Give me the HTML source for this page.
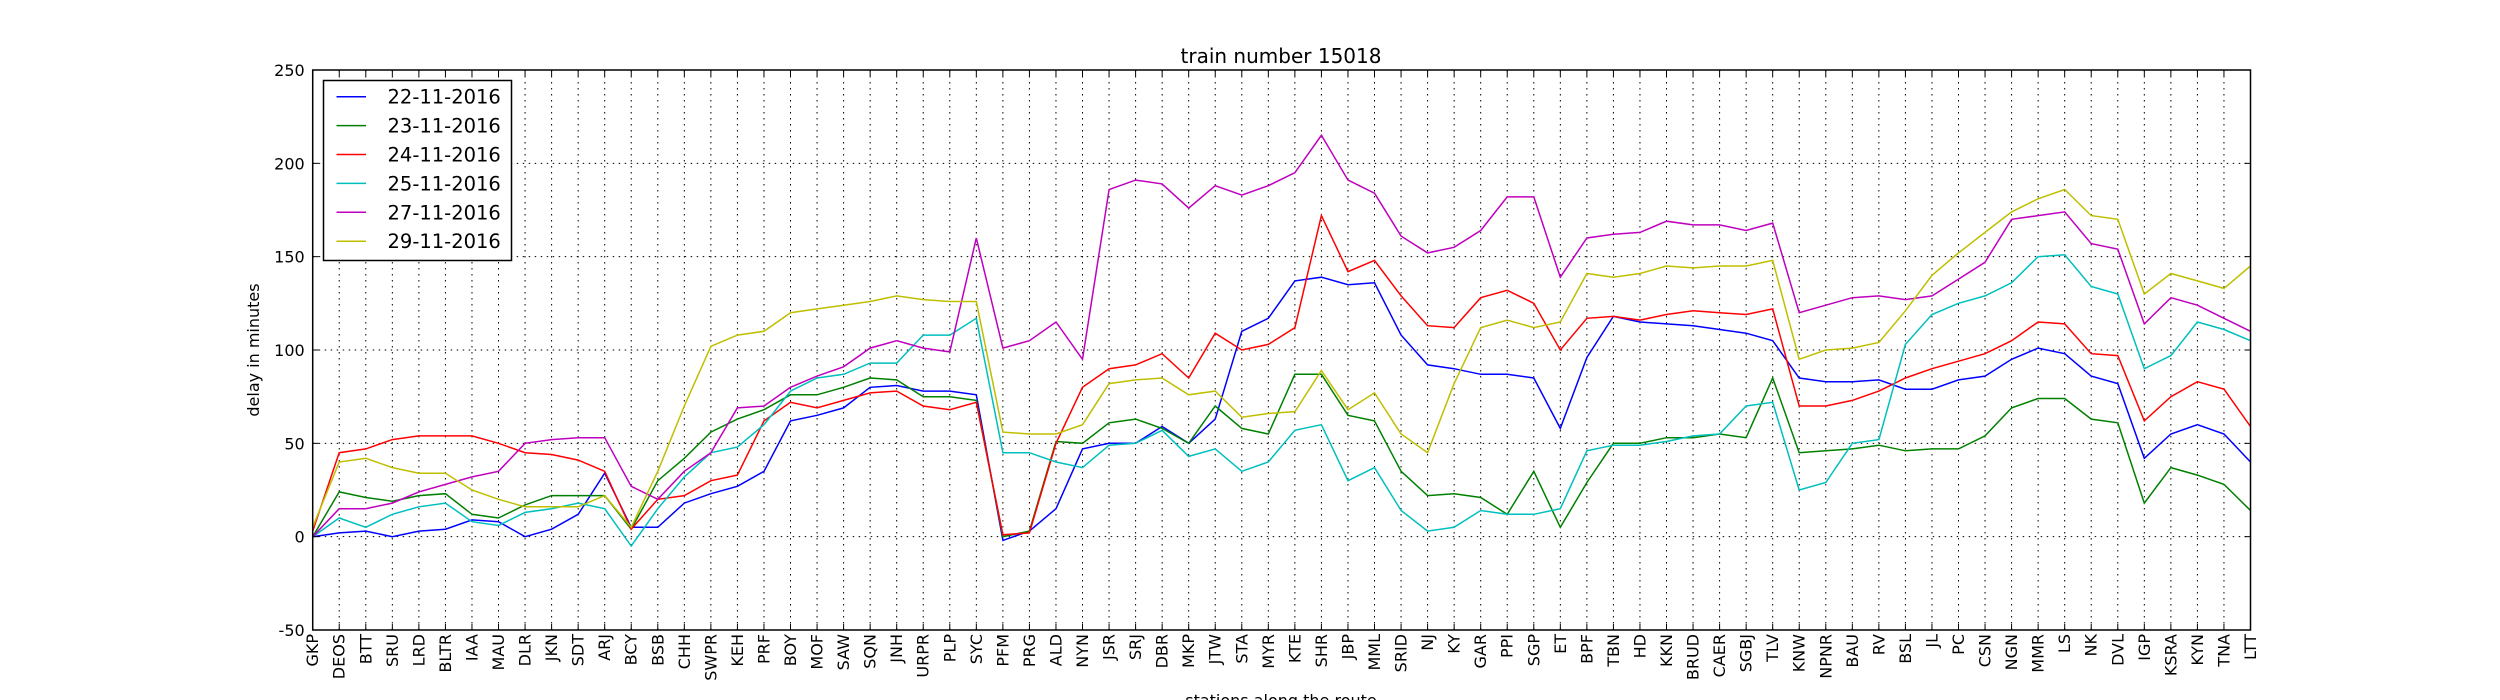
<!DOCTYPE html>
<html><head><meta charset="utf-8"><title>train number 15018</title>
<style>
html,body{margin:0;padding:0;background:#fff;}
svg{display:block;font-family:"DejaVu Sans","Liberation Sans",sans-serif;}
</style></head>
<body>
<svg id="chart" width="2500" height="700" viewBox="0 0 2500 700" xmlns="http://www.w3.org/2000/svg">
<rect width="2500" height="700" fill="#fff"/>
<g id="grid"></g>
<g id="series"></g>
<g id="axes"></g>
<text x="1281" y="63" font-size="20" text-anchor="middle">train number 15018</text>
<text transform="translate(259,350) rotate(-90)" font-size="16" text-anchor="middle">delay in minutes</text>
<text x="1281" y="706" font-size="16" text-anchor="middle">stations along the route</text>
<g id="legend"></g>
</svg>
<script>
const categories = ["GKP","DEOS","BTT","SRU","LRD","BLTR","IAA","MAU","DLR","JKN","SDT","ARJ","BCY","BSB","CHH","SWPR","KEH","PRF","BOY","MOF","SAW","SQN","JNH","URPR","PLP","SYC","PFM","PRG","ALD","NYN","JSR","SRJ","DBR","MKP","JTW","STA","MYR","KTE","SHR","JBP","MML","SRID","NJ","KY","GAR","PPI","SGP","ET","BPF","TBN","HD","KKN","BRUD","CAER","SGBJ","TLV","KNW","NPNR","BAU","RV","BSL","JL","PC","CSN","NGN","MMR","LS","NK","DVL","IGP","KSRA","KYN","TNA","LTT"];
const yTicks = [-50,0,50,100,150,200,250];
const seriesNames = ["22-11-2016","23-11-2016","24-11-2016","25-11-2016","27-11-2016","29-11-2016"];
const s22 = [0,2,3,0,3,4,9,8,0,4,12,34,5,5,18,23,27,35,62,65,69,80,81,78,78,76,-2,3,15,47,50,50,59,50,63,110,117,137,139,135,136,108,92,90,87,87,85,58,96,118,115,114,113,111,109,105,85,83,83,84,79,79,84,86,95,101,98,86,82,42,55,60,55,40];
const s23 = [0,24,21,19,22,23,12,10,17,22,22,22,4,30,42,56,63,68,76,76,80,85,84,75,75,73,0,3,51,50,61,63,58,50,70,58,55,87,87,65,62,35,22,23,21,12,35,5,29,50,50,53,53,55,53,85,45,46,47,49,46,47,47,54,69,74,74,63,61,18,37,33,28,14];
const s24 = [3,45,47,52,54,54,54,50,45,44,41,35,4,20,22,30,33,62,72,69,73,77,78,70,68,72,1,2,50,80,90,92,98,85,109,100,103,112,172,142,148,129,113,112,128,132,125,100,117,118,116,119,121,120,119,122,70,70,73,78,85,90,94,98,105,115,114,98,97,62,75,83,79,59];
const s25 = [0,10,5,12,16,18,8,6,13,15,18,15,-5,15,32,45,48,60,78,85,87,93,93,108,108,117,45,45,40,37,49,50,57,43,47,35,40,57,60,30,37,14,3,5,14,12,12,15,46,49,49,51,54,55,70,72,25,29,50,52,103,119,125,129,136,150,151,134,130,90,97,115,111,105];
const s27 = [0,15,15,18,24,28,32,35,50,52,53,53,27,20,35,45,69,70,80,86,91,101,105,101,99,160,101,105,115,95,186,191,189,176,188,183,188,195,215,191,184,161,152,155,164,182,182,139,160,162,163,169,167,167,164,168,120,124,128,129,127,129,138,147,170,172,174,157,154,114,128,124,117,110];
const s29 = [5,40,42,37,34,34,25,20,16,16,16,22,5,35,70,102,108,110,120,122,124,126,129,127,126,126,56,55,55,60,82,84,85,76,78,64,66,67,89,68,77,55,45,82,112,116,112,115,141,139,141,145,144,145,145,148,95,100,101,104,121,140,152,163,174,181,186,172,170,130,141,137,133,145];
const seriesValues = [s22,s23,s24,s25,s27,s29];
const seriesColors = ["#0000ff","#008000","#ff0000","#00bfbf","#bf00bf","#bfbf00"];

const NS = "http://www.w3.org/2000/svg";
const L = 312.7, R = 2250.5, T = 70, B = 630;
const yMin = -50, yMax = 250;
function xPos(i){ return L + i*(R-L)/(categories.length-1); }
function yPos(v){ return B - (v-yMin)/(yMax-yMin)*(B-T); }
function mk(tag, attrs, parent){ const e=document.createElementNS(NS,tag); for(const k in attrs) e.setAttribute(k,attrs[k]); parent.appendChild(e); return e; }

const grid = document.getElementById('grid');
const axes = document.getElementById('axes');
categories.forEach((c,i)=>{
  const x = xPos(i);
  const gl = mk('line',{x1:x,x2:x,y1:T,y2:B,stroke:'#000','stroke-width':1,'stroke-dasharray':'1.5,4.5'},grid);
  
  
  const tk = mk('line',{x1:x,x2:x,y1:B,y2:B-6,stroke:'#000','stroke-width':1},axes);
  
  
  const tk2 = mk('line',{x1:x,x2:x,y1:T,y2:T+6,stroke:'#000','stroke-width':1},axes);
  
  
  const t = mk('text',{transform:`translate(${x+5.5},${B+4}) rotate(-90)`,'font-size':16,'text-anchor':'end'},axes);
  t.textContent = c;
  
  
});
yTicks.forEach(v=>{
  const y = yPos(v);
  const gl = mk('line',{x1:L,x2:R,y1:y,y2:y,stroke:'#000','stroke-width':1,'stroke-dasharray':'1.5,4.5'},grid);
  
  
  const tk = mk('line',{x1:L,x2:L+6,y1:y,y2:y,stroke:'#000','stroke-width':1},axes);
  
  
  const tk2 = mk('line',{x1:R,x2:R-6,y1:y,y2:y,stroke:'#000','stroke-width':1},axes);
  
  
  const t = mk('text',{x:L-8,y:y+6,'font-size':16,'text-anchor':'end'},axes);
  t.textContent = v;
  
  
});
const frame = mk('rect',{x:L,y:T,width:R-L,height:B-T,fill:'none',stroke:'#000','stroke-width':1.5},axes);



const sg = document.getElementById('series');
seriesValues.forEach((vals,si)=>{
  const pts = vals.map((v,i)=>xPos(i).toFixed(1)+','+yPos(v).toFixed(1)).join(' ');
  const pl = mk('polyline',{points:pts,fill:'none',stroke:seriesColors[si],'stroke-width':1.5,'stroke-linejoin':'miter'},sg);
  
  
});

const lg = document.getElementById('legend');
const lbox = mk('rect',{x:323.5,y:80.5,width:188,height:180,fill:'#fff',stroke:'#000','stroke-width':1.5},lg);


seriesNames.forEach((n,i)=>{
  const y = 96.7 + i*28.9;
  const ln = mk('line',{x1:336.5,x2:366,y1:y,y2:y,stroke:seriesColors[i],'stroke-width':1.5},lg);
  
  
  const t = mk('text',{x:387.5,y:y+7,'font-size':19.5},lg);
  t.textContent = n;
  
  
});
</script>
</body></html>
